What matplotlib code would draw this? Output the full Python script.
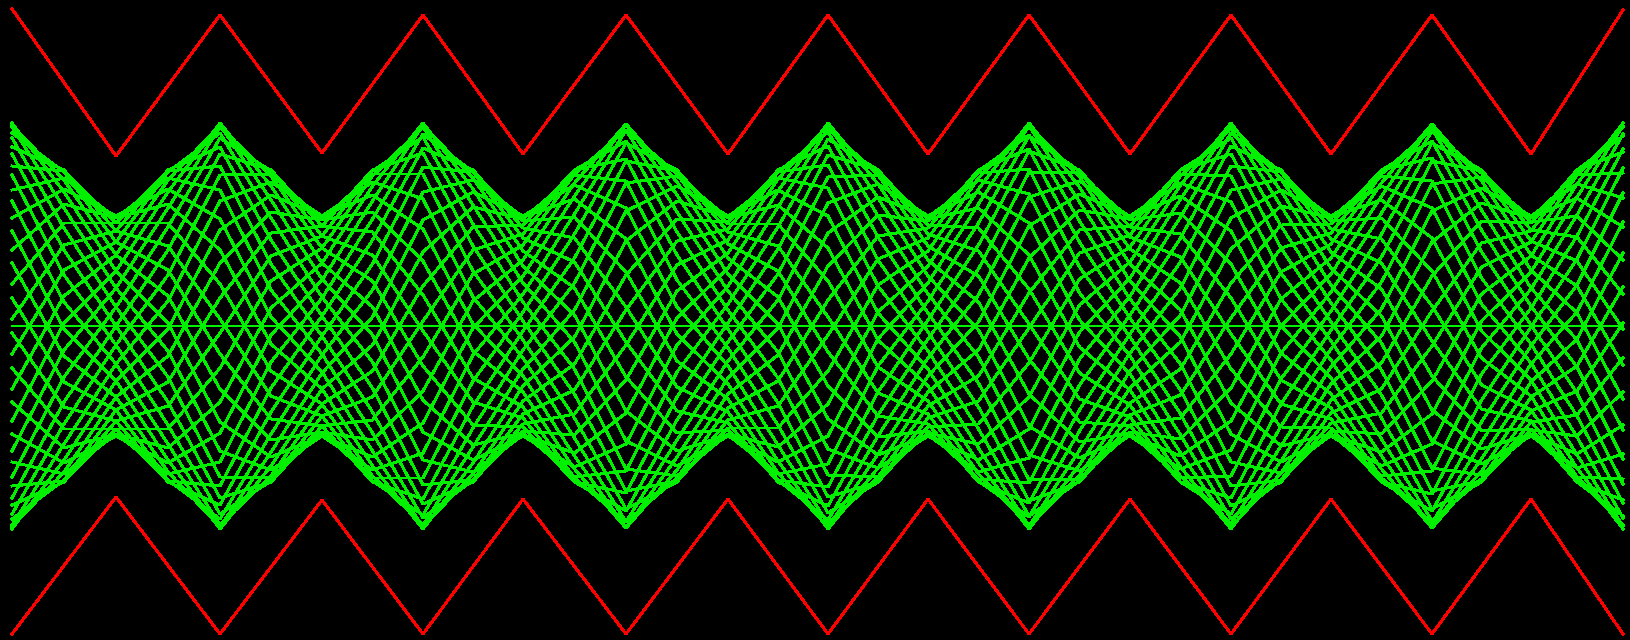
#!/usr/bin/env python3

import matplotlib
matplotlib.use("Agg")
import matplotlib.pyplot as plt

# sample positions along the sweep (pixels from the left edge)
VERTEX_X = [12, 116, 220, 322, 423, 523, 626, 728, 828, 928, 1029, 1130, 1231, 1331, 1432, 1531, 1623]
TRACE_X = [12, 64, 116, 168, 220, 271, 322, 372.5, 423, 473, 523, 574.5, 626, 677, 728, 778, 828,
           878, 928, 978.5, 1029, 1079.5, 1130, 1180.5, 1231, 1281, 1331, 1381.5, 1432, 1481.5,
           1531, 1577, 1623]

# red envelopes (pixel rows)
RED_TOP = [9, 156, 15, 153, 15, 154, 15, 154, 15, 154, 15, 154, 15, 154, 15, 154, 10]
RED_BOTTOM = [634, 497, 634, 500, 634, 499, 634, 499, 634, 499, 634, 499, 634, 499, 634, 499, 634]

# flat trace through the middle
CENTER_Y = 326

# green traces (pixel rows at TRACE_X)
GREEN = [
    [218, 189, 216, 189, 219, 317, 372, 451, 527, 474, 401, 364, 275, 219, 222, 172, 165, 260, 332, 407, 501, 482, 425, 418, 354, 272, 244, 174, 129, 210, 288, 340, 430],
    [190, 178, 218, 204, 250, 344, 389, 466, 529, 463, 386, 337, 241, 201, 217, 178, 188, 286, 351, 429, 516, 481, 415, 395, 318, 248, 233, 170, 141, 230, 306, 367, 459],
    [166, 171, 223, 223, 284, 371, 404, 476, 525, 447, 369, 310, 211, 186, 216, 190, 216, 313, 369, 448, 526, 475, 403, 369, 283, 225, 224, 170, 158, 252, 325, 393, 484],
    [147, 170, 231, 246, 319, 396, 416, 481, 515, 428, 350, 283, 183, 176, 218, 205, 248, 340, 386, 463, 529, 465, 388, 342, 249, 206, 218, 176, 181, 278, 344, 416, 503],
    [133, 172, 242, 270, 354, 419, 426, 482, 499, 406, 331, 258, 161, 171, 224, 224, 281, 367, 401, 474, 526, 450, 371, 315, 218, 190, 216, 186, 208, 304, 363, 437, 518],
    [125, 180, 255, 296, 389, 440, 432, 478, 478, 381, 312, 234, 143, 170, 232, 246, 317, 393, 414, 481, 517, 431, 353, 288, 190, 179, 217, 200, 238, 331, 380, 455, 526],
    [123, 192, 271, 323, 422, 457, 436, 470, 453, 355, 294, 214, 130, 174, 244, 271, 352, 416, 424, 482, 503, 410, 334, 262, 166, 172, 221, 218, 271, 358, 396, 468, 529],
    [127, 208, 288, 351, 451, 470, 436, 457, 423, 328, 276, 196, 124, 182, 258, 297, 386, 437, 431, 479, 483, 385, 315, 238, 146, 170, 229, 239, 306, 385, 410, 477, 525],
    [138, 228, 307, 377, 477, 478, 432, 440, 391, 301, 260, 183, 124, 195, 274, 324, 419, 455, 435, 472, 458, 359, 296, 217, 133, 172, 239, 263, 341, 409, 421, 482, 516],
    [154, 250, 326, 402, 498, 482, 426, 420, 357, 274, 245, 174, 130, 212, 291, 352, 449, 468, 436, 460, 429, 332, 278, 199, 125, 179, 252, 289, 376, 431, 429, 482, 500],
    [175, 275, 345, 425, 514, 481, 416, 397, 321, 250, 234, 170, 141, 232, 310, 378, 475, 477, 433, 444, 397, 305, 262, 185, 123, 191, 268, 316, 410, 449, 434, 477, 479],
    [201, 302, 364, 444, 525, 476, 404, 371, 286, 227, 225, 170, 159, 255, 329, 403, 497, 482, 427, 424, 363, 279, 247, 176, 128, 206, 285, 343, 441, 464, 436, 468, 454],
    [231, 329, 381, 460, 529, 466, 389, 345, 252, 207, 219, 175, 181, 280, 348, 425, 513, 482, 418, 401, 328, 253, 235, 170, 138, 226, 303, 370, 468, 475, 434, 454, 425],
    [263, 356, 397, 472, 527, 452, 373, 317, 220, 192, 216, 185, 208, 307, 366, 445, 524, 477, 406, 376, 293, 230, 226, 170, 154, 248, 322, 395, 491, 481, 430, 436, 392],
    [298, 382, 410, 480, 519, 434, 355, 290, 192, 180, 217, 199, 239, 334, 384, 461, 529, 468, 392, 350, 258, 210, 219, 174, 176, 273, 341, 418, 509, 482, 422, 415, 358],
    [333, 407, 421, 482, 505, 412, 336, 264, 167, 172, 221, 217, 272, 361, 399, 473, 527, 454, 376, 322, 226, 194, 216, 183, 202, 299, 360, 439, 521, 479, 411, 391, 323],
    [368, 429, 429, 481, 486, 388, 316, 240, 148, 170, 228, 238, 307, 387, 412, 480, 520, 436, 358, 295, 197, 181, 217, 196, 231, 326, 378, 456, 528, 471, 397, 366, 287],
    [402, 448, 434, 474, 462, 362, 298, 219, 134, 172, 238, 262, 342, 411, 423, 482, 506, 415, 339, 269, 172, 173, 220, 213, 264, 353, 394, 469, 528, 459, 382, 339, 253],
    [434, 463, 436, 463, 433, 335, 280, 201, 125, 178, 251, 288, 377, 433, 430, 480, 487, 392, 320, 245, 151, 170, 227, 234, 298, 380, 408, 478, 523, 442, 364, 312, 222],
    [462, 474, 434, 448, 402, 308, 263, 186, 123, 189, 266, 315, 411, 451, 435, 474, 464, 366, 301, 223, 136, 171, 237, 257, 334, 404, 419, 482, 511, 422, 346, 285, 193],
    [486, 481, 429, 429, 368, 281, 248, 176, 127, 205, 283, 342, 441, 466, 436, 462, 436, 339, 283, 204, 126, 177, 249, 283, 369, 427, 428, 482, 494, 400, 327, 259, 168],
    [505, 482, 421, 406, 333, 256, 236, 171, 137, 224, 302, 369, 469, 476, 434, 447, 404, 312, 266, 189, 123, 187, 264, 310, 403, 446, 434, 476, 471, 374, 308, 236, 149],
    [519, 480, 410, 382, 298, 233, 226, 170, 153, 246, 321, 394, 491, 481, 428, 428, 371, 285, 251, 178, 126, 202, 281, 337, 434, 462, 436, 466, 444, 348, 289, 215, 134],
    [527, 472, 397, 356, 263, 212, 220, 174, 174, 271, 340, 418, 509, 482, 420, 406, 335, 259, 238, 171, 135, 221, 299, 364, 462, 473, 435, 452, 414, 321, 272, 197, 126],
    [529, 460, 381, 329, 230, 195, 216, 182, 199, 297, 358, 438, 522, 478, 408, 381, 300, 236, 228, 170, 149, 242, 318, 390, 486, 480, 431, 434, 381, 294, 256, 184, 123],
    [525, 444, 364, 301, 201, 182, 216, 195, 229, 324, 376, 456, 528, 470, 394, 355, 266, 215, 221, 173, 169, 267, 337, 414, 506, 482, 423, 413, 346, 267, 242, 175, 127],
    [514, 424, 345, 275, 175, 174, 220, 212, 261, 351, 392, 469, 528, 457, 378, 328, 233, 197, 217, 180, 194, 293, 356, 435, 519, 480, 413, 389, 311, 243, 231, 170, 136],
    [498, 402, 326, 250, 154, 170, 226, 232, 295, 378, 407, 478, 522, 440, 361, 300, 203, 184, 216, 192, 223, 320, 374, 453, 527, 473, 400, 363, 276, 221, 223, 170, 152],
    [477, 377, 307, 227, 138, 171, 236, 255, 331, 402, 418, 482, 511, 420, 342, 274, 177, 175, 219, 208, 255, 347, 390, 467, 529, 461, 384, 336, 242, 203, 218, 175, 173],
    [451, 350, 288, 208, 127, 176, 248, 281, 366, 425, 427, 482, 493, 397, 323, 249, 155, 170, 225, 228, 289, 373, 405, 476, 524, 446, 367, 309, 211, 188, 216, 184, 198],
    [421, 323, 271, 192, 123, 186, 263, 307, 400, 445, 433, 477, 471, 372, 304, 227, 139, 170, 234, 251, 324, 399, 417, 482, 514, 426, 349, 282, 184, 177, 218, 198, 227],
    [389, 296, 255, 180, 125, 200, 279, 335, 432, 460, 436, 467, 444, 345, 286, 207, 128, 175, 246, 276, 359, 422, 426, 482, 498, 404, 330, 257, 161, 171, 222, 216, 260],
    [354, 270, 242, 172, 133, 218, 297, 362, 460, 472, 435, 453, 413, 318, 268, 191, 123, 184, 260, 302, 394, 442, 433, 478, 476, 379, 311, 234, 143, 170, 230, 237, 294],
    [319, 245, 231, 170, 147, 240, 316, 388, 485, 480, 431, 435, 380, 291, 253, 179, 125, 198, 276, 330, 426, 458, 436, 469, 450, 353, 292, 213, 131, 173, 241, 261, 329],
    [284, 223, 223, 171, 166, 264, 336, 412, 504, 482, 424, 414, 345, 265, 240, 172, 132, 216, 294, 357, 455, 471, 435, 456, 421, 326, 274, 196, 124, 181, 255, 286, 365],
    [250, 204, 218, 178, 190, 290, 354, 433, 518, 480, 414, 390, 310, 241, 229, 170, 146, 237, 313, 383, 480, 479, 432, 439, 388, 299, 258, 183, 124, 193, 270, 313, 399],
]

GREEN_C = "#00f000"
RED_C = "#ff0000"
LW = 1.4

fig = plt.figure(figsize=(16.3, 6.4), dpi=100, facecolor="black")
ax = fig.add_axes([0, 0, 1, 1])
ax.set_facecolor("black")

for ys in GREEN:
    ax.plot(TRACE_X, ys, color=GREEN_C, lw=LW, antialiased=False)

ax.plot([VERTEX_X[0], VERTEX_X[-1]], [CENTER_Y, CENTER_Y], color=GREEN_C, lw=LW, antialiased=False)

ax.plot(VERTEX_X, RED_TOP, color=RED_C, lw=LW, antialiased=False)
ax.plot(VERTEX_X, RED_BOTTOM, color=RED_C, lw=LW, antialiased=False)

ax.set_xlim(0, 1630)
ax.set_ylim(640, 0)
ax.axis("off")

fig.savefig("out.png", dpi=100, facecolor="black")
